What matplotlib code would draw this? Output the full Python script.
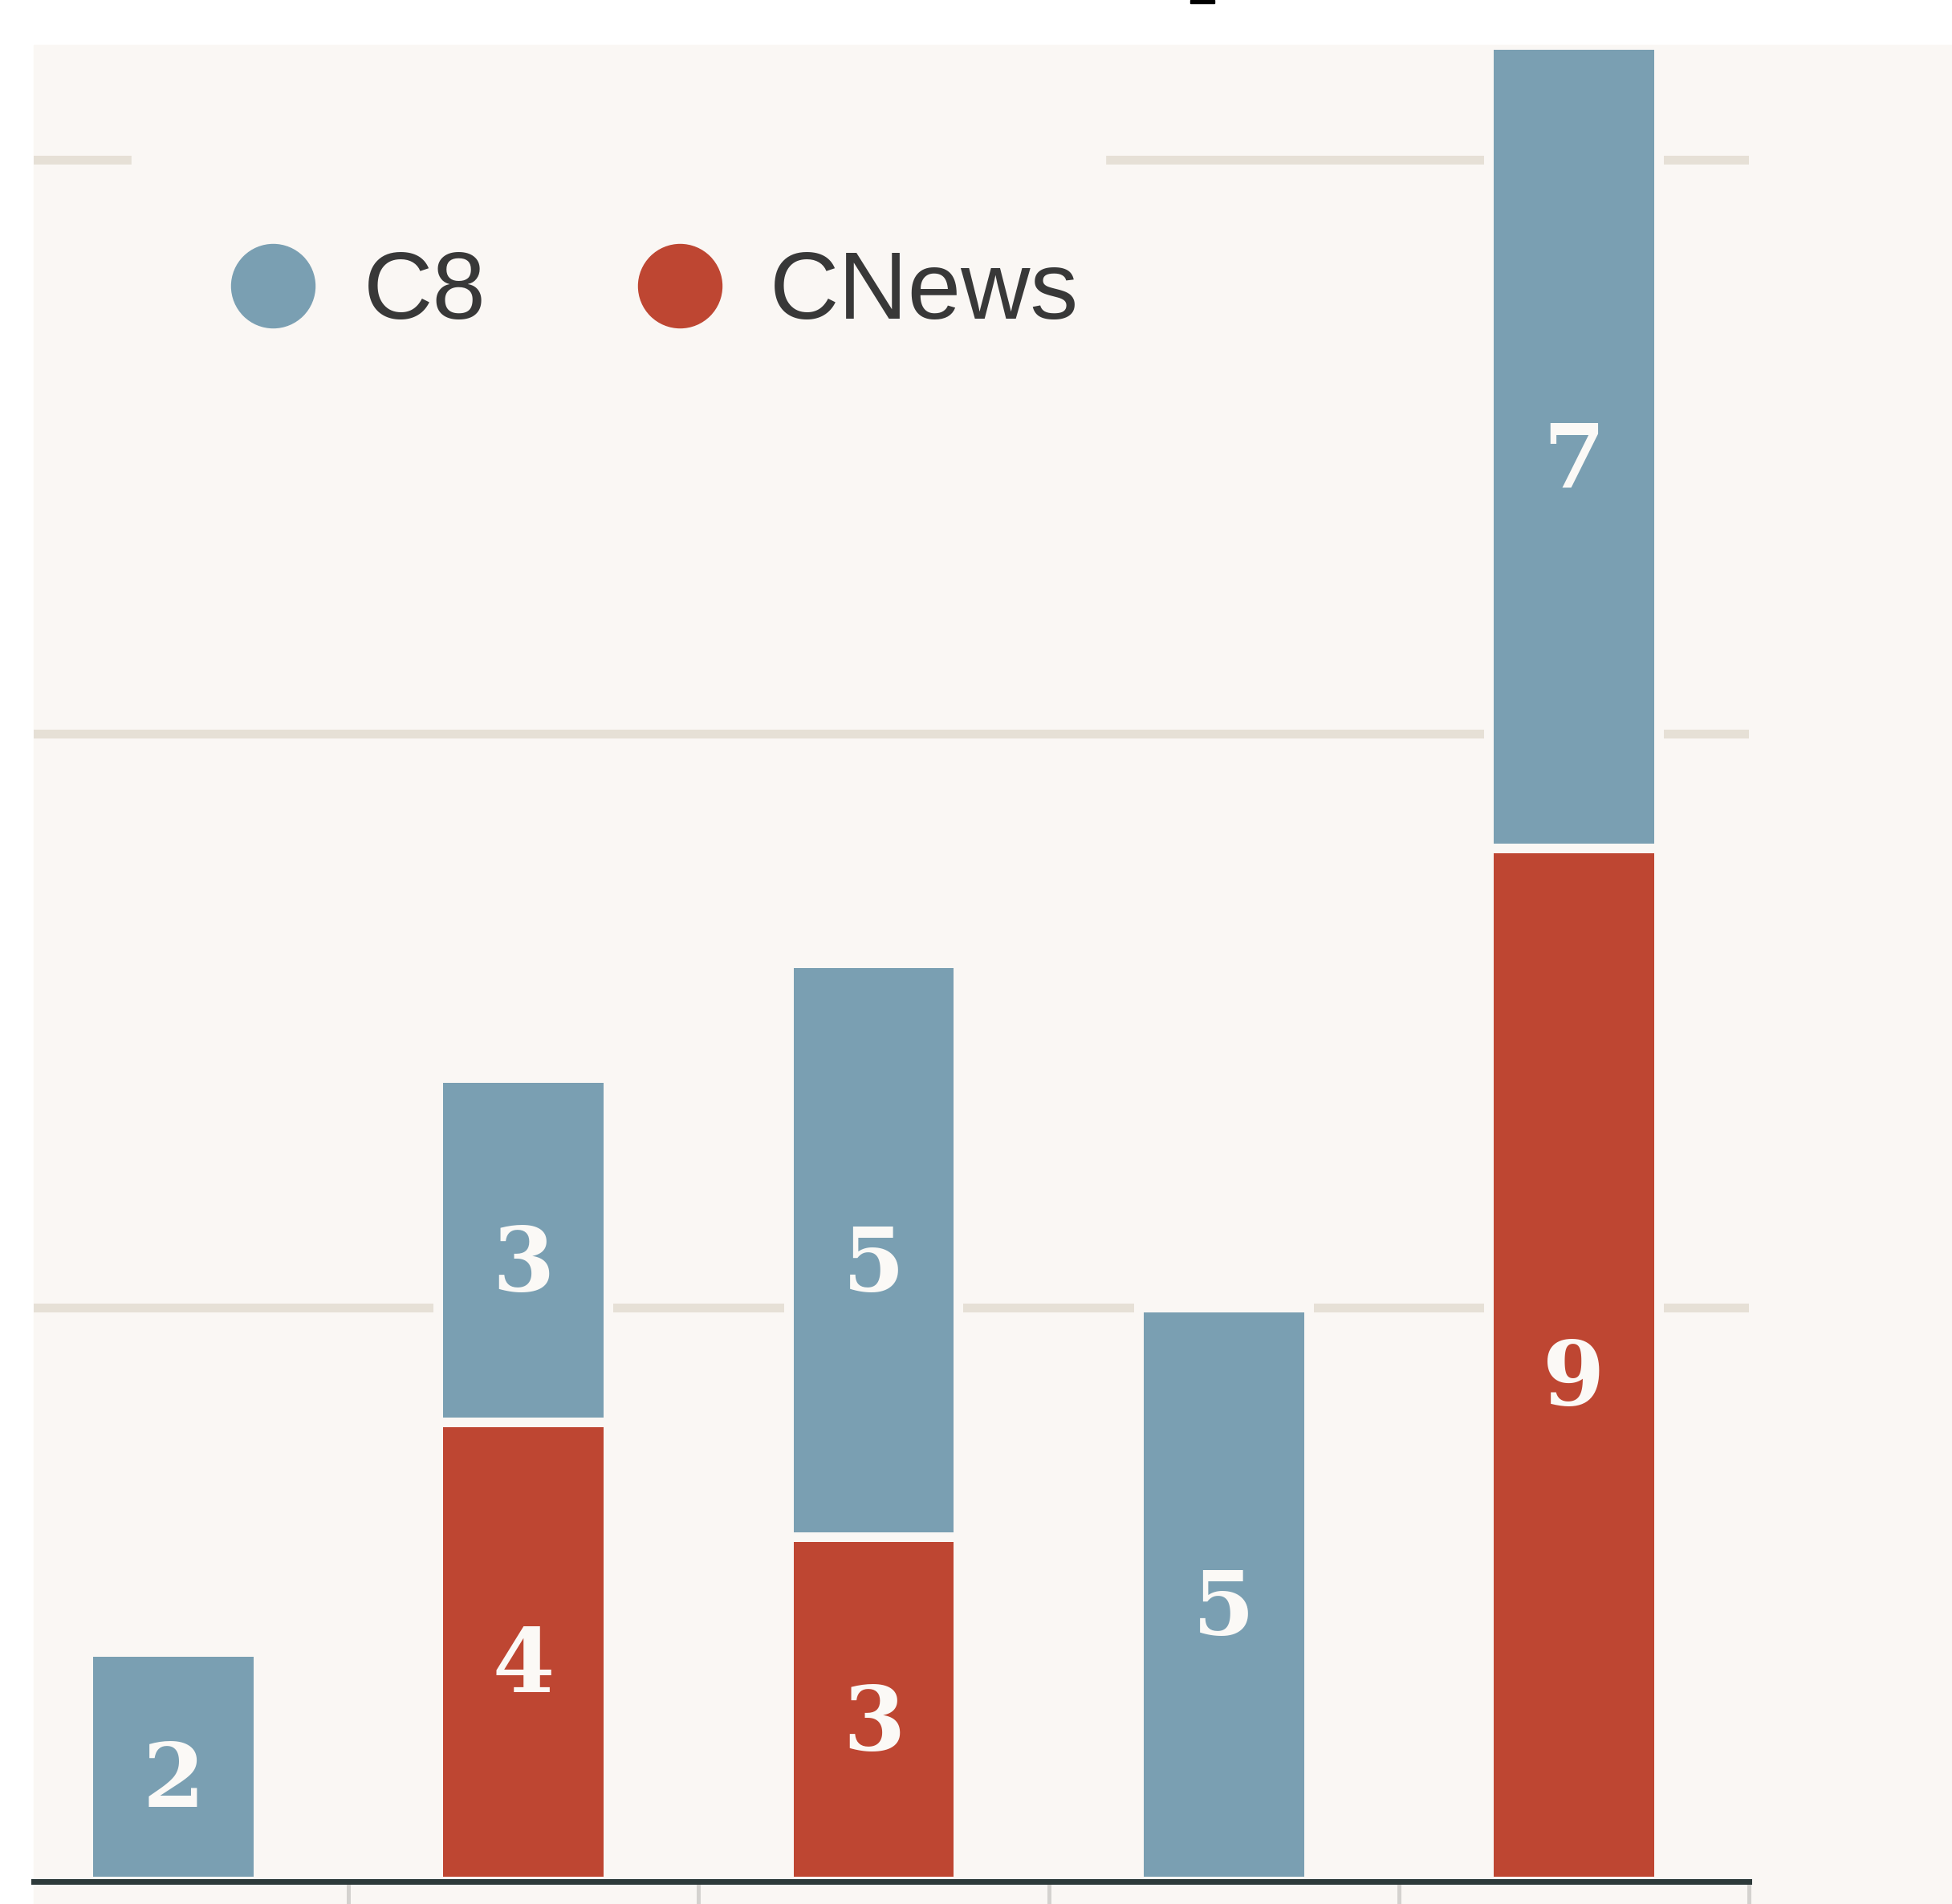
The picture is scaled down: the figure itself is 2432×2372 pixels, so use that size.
import matplotlib
matplotlib.use("Agg")
import matplotlib.pyplot as plt
from matplotlib.lines import Line2D
from matplotlib.patches import Rectangle
import numpy as np

# Données : deux chaînes empilées, cinq groupes
series_names = ["C8", "CNews"]
c8 = [2, 3, 5, 5, 7]
cnews = [0, 4, 3, 0, 9]
gridlines = [5, 10, 15]

# Couleurs
bg = "#faf7f4"
c8_color = "#7a9fb2"
cnews_color = "#be4632"
grid_color = "#e6e0d6"
base_color = "#2d3a3a"

W, H, DPI = 2432, 2372, 100
px = 0.72  # 1 pixel en points à 100 dpi

fig = plt.figure(figsize=(W / DPI, H / DPI), dpi=DPI, facecolor="white")
# panneau de fond (le graphique est rogné à gauche et en haut)
fig.patches.append(Rectangle((42 / W, 0), 1 - 42 / W, 1 - 56 / H,
                             transform=fig.transFigure, color=bg, zorder=-10))
# petit morceau noir en haut (reste du titre)
fig.patches.append(Rectangle((1483 / W, 1 - 4 / H), 30 / W, 4 / H,
                             transform=fig.transFigure, color="black", zorder=-10))

ax = fig.add_axes([42 / W, 28 / H, 2137 / W, 2288 / H])
ax.set_facecolor("none")
x = np.arange(len(c8))
ax.set_xlim(-0.5 + 44 / 436.25, 4.5)
ax.set_ylim(0, 16.0)

for g in gridlines:
    ax.axhline(g, color=grid_color, lw=11 * px, zorder=1)

width = 0.486
edge = 12 * px
ax.bar(x, cnews, width, color=cnews_color, edgecolor=bg, linewidth=edge, zorder=2)
ax.bar(x, c8, width, bottom=cnews, color=c8_color, edgecolor=bg, linewidth=edge, zorder=2)

# étiquettes de valeur
lab_size = 80
for i in range(len(x)):
    for val, base in [(cnews[i], 0), (c8[i], cnews[i])]:
        if val > 0:
            ax.annotate(str(val), (x[i], base + val / 2), xytext=(0, -36),
                        textcoords="offset points", ha="center", va="baseline",
                        fontsize=lab_size, fontweight="bold", color="#fbf9f6",
                        family="DejaVu Serif", zorder=4)

# ligne de base
ax.axhline(0, color=base_color, lw=7 * px, zorder=5, clip_on=False)

for s in ax.spines.values():
    s.set_visible(False)
ax.set_yticks([])
ax.set_xticks(x + 0.5)
ax.set_xticklabels([])
ax.tick_params(axis="x", length=30 * px, width=5 * px, color="#d4d2cf", direction="out")

# fond de la légende
ax.add_patch(Rectangle(((164 - 42) / 2137, (2344 - 540) / 2288),
                       (1377 - 164) / 2137, (540 - 140) / 2288,
                       transform=ax.transAxes, color=bg, zorder=3))

handles = [Line2D([], [], marker="o", ls="", ms=104 * px, color=c, mec=c)
           for c in [c8_color, cnews_color]]
leg_fs = 86
leg = ax.legend(handles, series_names, ncol=2, frameon=False,
                loc="center left",
                bbox_to_anchor=((221 - 42) / 2137, (2344 - 367) / 2288),
                bbox_transform=ax.transAxes,
                borderpad=0, handlelength=1.0, handletextpad=0.44,
                columnspacing=1.52,
                prop={"family": "Liberation Sans", "size": leg_fs})
for t in leg.get_texts():
    t.set_color("#383838")
leg.set_zorder(6)

fig.savefig("out.png", dpi=DPI, facecolor="white")
